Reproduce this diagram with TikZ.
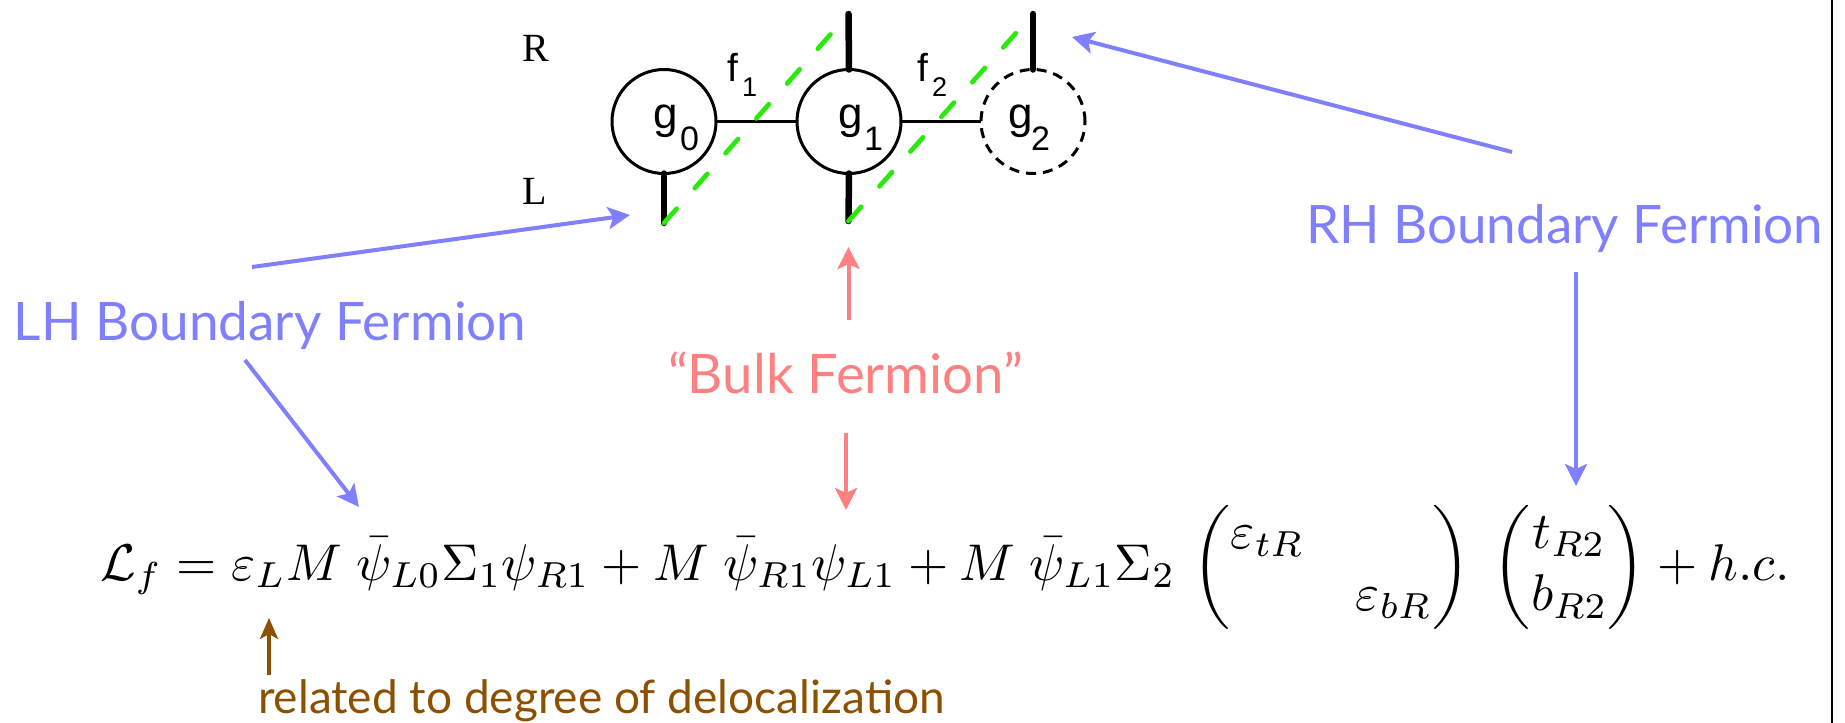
\documentclass[tikz,border=0pt]{standalone}
\usepackage{amsmath}
\usepackage{graphicx}
\usepackage{fontspec}
\usetikzlibrary{arrows.meta}
\newfontfamily\labelfont{Lato}
\newfontfamily\helv{Liberation Sans}
\newfontfamily\timesf{Liberation Serif}
\definecolor{blueC}{RGB}{128,128,255}
\definecolor{salmonC}{RGB}{255,128,128}
\definecolor{brownC}{RGB}{140,80,0}
\definecolor{greenC}{RGB}{40,235,10}
\newcommand{\fitw}[2]{\resizebox{#1}{!}{#2}}
\begin{document}
\begin{tikzpicture}[x=1pt,y=-1pt,
  lbl/.style={inner sep=0pt, outer sep=0pt, anchor=base west},
  gtxt/.style={lbl, font=\helv\fontsize{44}{44}\selectfont},
  gsub/.style={lbl, font=\helv\fontsize{34}{34}\selectfont},
  ftxt/.style={lbl, font=\helv\fontsize{39}{39}\selectfont},
  fsub/.style={lbl, font=\helv\fontsize{27}{27}\selectfont},
  rltxt/.style={lbl, font=\timesf\fontsize{40}{40}\selectfont},
  ring/.style={circle, draw, line width=3pt, minimum size=104pt, inner sep=0pt, outer sep=0pt},
  link/.style={line width=2.2pt},
  leg/.style={line width=6.5pt, line cap=round},
  gline/.style={draw=greenC, line width=4.7pt, line cap=round, dash pattern=on 19pt off 27.5pt},
  arr/.style={line width=4pt, -{Stealth[length=22pt,width=22pt,inset=5pt]}},
  barr/.style={arr, draw=blueC},
  sarr/.style={arr, draw=salmonC},
  brarr/.style={line width=3.5pt, draw=brownC, -{Stealth[length=21pt,width=18pt,inset=5pt]}}
]
\useasboundingbox (0,0) rectangle (1845,723);

% right border
\coordinate (bt) at (1832,0);
\coordinate (bb) at (1832,723);
\draw[line width=2pt] (bt) -- (bb);

% rings
\node[ring] (g0) at (664,121.5) {};
\node[ring] (g1) at (849,121.5) {};
\node[ring, dash pattern=on 10pt off 7pt] (g2) at (1033,121.5) {};
\draw[link] (g0) -- (g1);
\draw[link] (g1) -- (g2);

% ring labels
\node[gtxt] (tg0) at (653,128) {g};
\node[gsub] (ts0) at (680,150.7) {0};
\node[gtxt] (tg1) at (838,128) {g};
\node[gsub] (ts1) at (864,150.7) {1};
\node[gtxt] (tg2) at (1008,128) {g};
\node[gsub] (ts2) at (1031,150.7) {2};
\node[ftxt] (tf1) at (727,81.7) {f};
\node[fsub] (tf1s) at (742,96.7) {1};
\node[ftxt] (tf2) at (917,81.7) {f};
\node[fsub] (tf2s) at (932,96.7) {2};
\node[rltxt] (tR) at (522,61.7) {R};
\node[rltxt] (tL) at (522,204) {L};

% fermion legs
\coordinate (l0) at (664,223);
\coordinate (r1) at (848.5,14);
\coordinate (l1) at (848.5,221);
\coordinate (r2) at (1033,14);
\draw[leg] (g0.south) -- (l0);
\draw[leg] (g1.north) -- (r1);
\draw[leg] (g1.south) -- (l1);
\draw[leg] (g2.north) -- (r2);
\draw[gline] (l0) -- (r1);
\draw[gline] (l1) -- (r2);

% labels
\node[lbl, text=blueC] (lh) at (14,340) {\fitw{512pt}{\labelfont LH Boundary Fermion}};
\node[lbl, text=blueC] (rh) at (1306,243) {\fitw{517pt}{\labelfont RH Boundary Fermion}};
\node[lbl, text=salmonC] (bulk) at (668,393) {\fitw{355pt}{\labelfont “Bulk Fermion”}};
\node[lbl, text=brownC] (deloc) at (258,713) {\fitw{687pt}{\labelfont related to degree of delocalization}};

% formula
\node[lbl] (formula) at (100,580) {\fitw{1689pt}{$\mathcal{L}_f = \varepsilon_L M\;\bar\psi_{L0}\Sigma_1\psi_{R1} + M\;\bar\psi_{R1}\psi_{L1} + M\;\bar\psi_{L1}\Sigma_2\,\begin{pmatrix}\varepsilon_{tR} & \\ & \varepsilon_{bR}\end{pmatrix}\;\begin{pmatrix}t_{R2}\\ b_{R2}\end{pmatrix} + h.c.$}};

% arrows
\coordinate (a1s) at (252,267);
\coordinate (a1e) at (630,215);
\coordinate (a2s) at (245,360);
\coordinate (a2e) at (359,507);
\coordinate (b1s) at (848.5,320);
\coordinate (b1e) at (848.5,247);
\coordinate (b2s) at (846,433);
\coordinate (b2e) at (846,510);
\coordinate (c1s) at (1512,152);
\coordinate (c1e) at (1072,37);
\coordinate (c2s) at (1576,272);
\coordinate (c2e) at (1576,486);
\coordinate (d1s) at (269,675);
\coordinate (d1e) at (269,618);
\draw[barr] (a1s) -- (a1e);
\draw[barr] (a2s) -- (a2e);
\draw[sarr] (b1s) -- (b1e);
\draw[sarr] (b2s) -- (b2e);
\draw[barr] (c1s) -- (c1e);
\draw[barr] (c2s) -- (c2e);
\draw[brarr] (d1s) -- (d1e);
\end{tikzpicture}
\end{document}
